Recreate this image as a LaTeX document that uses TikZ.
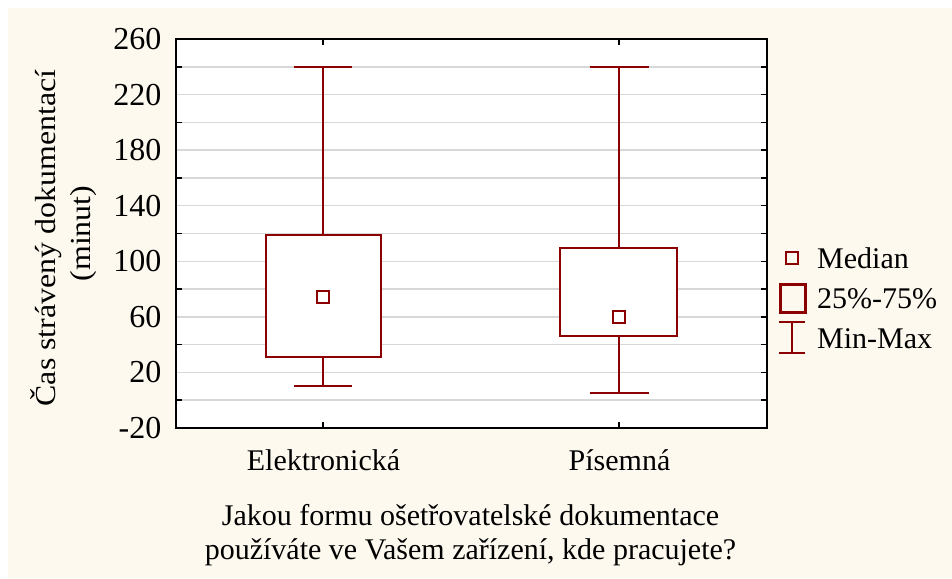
\documentclass[tikz,border=0pt]{standalone}
\usepackage{fontspec}
\setmainfont{Liberation Serif}
\newfontfamily\ylabA{Liberation Serif}[FakeStretch=1.1]
\definecolor{cream}{RGB}{253,249,239}
\definecolor{dred}{RGB}{139,0,0}
\definecolor{gridc}{RGB}{216,216,216}
\newcommand{\yv}[1]{428-(#1+20)*1.3893}
\begin{document}
\begin{tikzpicture}[x=1pt,y=-1pt,
  gridline/.style={gridc,line width=1.5pt},
  axisline/.style={black,line width=2pt},
  tickline/.style={black,line width=1.5pt},
  boxst/.style={dred,line width=2pt,fill=white},
  whisk/.style={dred,line width=2pt},
  ticklab/.style={anchor=east,inner sep=0pt,font=\fontsize{32}{34}\selectfont},
  catlab/.style={anchor=base,inner sep=0pt,font=\fontsize{30}{32}\selectfont},
  titlab/.style={anchor=base,inner sep=0pt,font=\fontsize{30}{32}\selectfont},
  leglab/.style={anchor=base west,inner sep=0pt,font=\fontsize{30}{32}\selectfont},
  ylab/.style={rotate=90,anchor=base,inner sep=0pt,font=\ylabA\fontsize{29}{31}\selectfont}]
\useasboundingbox (0,0) rectangle (952,578);
\fill[white] (0,0) rectangle (952,578);
\fill[cream] (8,8) rectangle (952,578);
\fill[white] (176,39) rectangle (767,428);
% grid
\foreach \v in {0,20,...,240}
  \draw[gridline] (176,{\yv{\v}}) -- (767,{\yv{\v}});
% ticks
\foreach \v in {0,40,...,240}
  \draw[tickline] (176,{\yv{\v}}) -- (182,{\yv{\v}});
\foreach \v in {0,20,...,240}
  \draw[tickline] (761,{\yv{\v}}) -- (767,{\yv{\v}});
\foreach \x in {323,619}{
  \draw[tickline] (\x,39) -- (\x,45);
  \draw[tickline] (\x,422) -- (\x,428);
}
\draw[axisline] (176,39) rectangle (767,428);
% tick labels
\foreach \v [count=\i] in {-20,20,60,100,140,180,220,260}
  \node[ticklab] (yl\i) at (161.5,{\yv{\v}}) {\v};
% box 1
\draw[whisk] (323,235) -- (323,66.8);
\draw[whisk] (294,66.8) -- (352,66.8);
\draw[whisk] (323,357) -- (323,386);
\draw[whisk] (294,386) -- (352,386);
\draw[boxst] (266,235) rectangle (381,357);
\draw[whisk] (317,291) rectangle (329,303);
% box 2
\draw[whisk] (619,248.3) -- (619,66.8);
\draw[whisk] (589.5,66.8) -- (648.5,66.8);
\draw[whisk] (619,336.3) -- (619,392.7);
\draw[whisk] (589.5,392.7) -- (648.5,392.7);
\draw[boxst] (560,248.3) rectangle (677,336.3);
\draw[whisk] (613,311) rectangle (625,323);
% legend
\draw[whisk] (786,252) rectangle (798,264);
\draw[dred,line width=3pt] (780,284) rectangle (805,312);
\draw[whisk] (779,322) -- (805,322);
\draw[whisk] (792,322) -- (792,353);
\draw[whisk] (779,353) -- (805,353);
\node[leglab] (lg1) at (817,268) {Median};
\node[leglab] (lg2) at (817,308) {25\%-75\%};
\node[leglab] (lg3) at (817,348) {Min-Max};
% category labels
\node[catlab] (c1) at (323.5,470.5) {Elektronická};
\node[catlab] (c2) at (619.5,470.5) {Písemná};
% x title
\node[titlab] (xt1) at (470.5,525) {Jakou formu ošetřovatelské dokumentace};
\node[titlab] (xt2) at (470.5,559) {používáte ve Vašem zařízení, kde pracujete?};
% y title
\node[ylab] (yt1) at (55,238) {Čas strávený dokumentací};
\node[ylab] (yt2) at (90,233.5) {(minut)};
\end{tikzpicture}
\end{document}
